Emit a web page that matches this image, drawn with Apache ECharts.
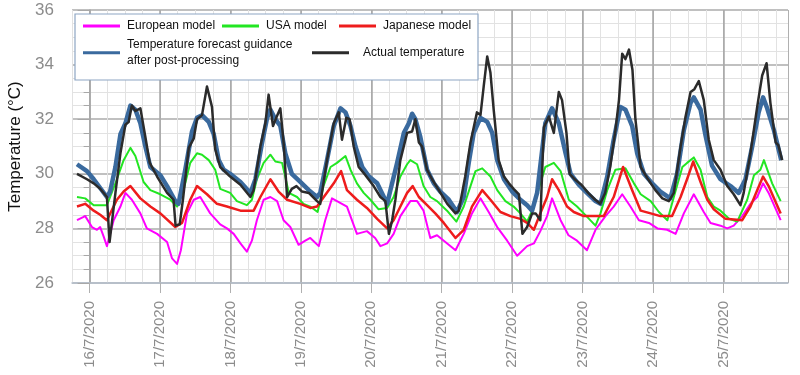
<!DOCTYPE html>
<html>
<head>
<meta charset="utf-8">
<title>Temperature forecast</title>
<script src="https://cdn.jsdelivr.net/npm/echarts@6/dist/echarts.min.js"></script>
<style>
  html, body { margin: 0; padding: 0; background: #fff; }
  #main { width: 800px; height: 375px; }
</style>
</head>
<body>
<div id="main"></div>
<script>
// hours counted from 16/7/2020 00:00, temperatures in °C
const dayHours = [0, 24, 48, 72, 96, 120, 144, 168, 192, 216];
const dayLabels = ["16/7/2020", "17/7/2020", "18/7/2020", "19/7/2020", "20/7/2020",
  "21/7/2020", "22/7/2020", "23/7/2020", "24/7/2020", "25/7/2020"];
const yTicks = [26, 28, 30, 32, 34, 36];

const euroModel = [[-4.3,28.3],[-1.5,28.45],[0.8,28.05],[2.5,27.95],[3.6,28.05],[4.8,27.7],[5.9,27.35],[8.2,28.3],[10.5,28.8],[12.2,29.3],[14.4,29.05],[17.3,28.55],[19.5,28.0],[23,27.8],[26.4,27.5],[28.1,26.9],[29.8,26.7],[31.1,27.2],[33.2,28.55],[35.5,29.05],[37.7,29.15],[41.1,28.55],[44.5,28.15],[46.8,28.0],[49.1,27.8],[51.4,27.45],[53.6,27.15],[55.3,27.55],[57,28.3],[59.3,29.05],[61.6,29.15],[63.9,29.0],[66.1,28.3],[68.4,28.05],[71.2,27.4],[73.5,27.55],[75.2,27.65],[78.1,27.35],[80.3,28.3],[82.6,29.1],[84.3,29.0],[86,28.9],[87.7,28.8],[91.1,27.8],[94.5,27.9],[97.3,27.65],[99.1,27.35],[101.4,27.45],[103.6,27.8],[105.9,28.45],[109.3,29.0],[111.6,29.0],[113.8,28.65],[116.1,27.65],[118.4,27.75],[120.7,27.55],[124.7,27.2],[127.5,27.8],[130.3,28.55],[133.2,29.1],[136,28.6],[138.9,28.05],[142.3,27.55],[145.7,27.0],[149.1,27.35],[151.4,27.45],[153.6,27.9],[155.9,28.45],[157.6,29.1],[160.5,28.3],[163.2,27.75],[166.1,27.55],[169.5,27.2],[172.4,27.95],[175.8,28.45],[178.6,28.8],[181.5,29.25],[184.3,28.8],[187.2,28.3],[190.6,28.2],[193.5,28.0],[196.8,27.95],[199.7,27.8],[202.5,28.55],[205.9,29.25],[209.3,28.6],[211.6,28.2],[215,28.1],[217.3,28.0],[219.5,28.1],[222.4,28.45],[225.2,28.9],[227.5,29.15],[229.5,29.65],[231.4,29.3],[235.5,28.3]];

const usaModel = [[-4.3,29.15],[-1.5,29.1],[1.4,28.85],[5.9,28.85],[7,29.15],[9.3,29.8],[11.6,30.5],[13.9,30.95],[15.6,30.65],[18.4,29.7],[20.7,29.4],[24.1,29.25],[27.5,29.05],[29.8,28.8],[32,29.4],[34.3,30.4],[36.6,30.75],[38.3,30.7],[40.6,30.5],[42.8,30.15],[44.5,29.45],[47.9,29.3],[50.2,29.0],[53.6,28.85],[55.3,29.05],[57,29.8],[59.3,30.4],[61.6,30.7],[63.3,30.45],[65.6,30.4],[67.9,29.3],[70.7,29.15],[72.9,28.9],[75.2,28.8],[77.7,28.6],[79.7,29.55],[82.1,30.25],[84.3,30.4],[87.2,30.65],[88.9,30.15],[91.1,29.65],[93.4,29.3],[95.7,29.05],[98.5,28.7],[101.4,28.75],[103.6,29.15],[105.9,29.9],[108.2,30.35],[109.3,30.5],[111.6,30.35],[113.8,29.55],[116.1,29.15],[118.4,29.0],[121.8,28.65],[125,28.25],[127.5,28.8],[129.8,29.55],[131.5,30.1],[133.8,30.2],[136.6,29.9],[138.9,29.4],[141.7,29.0],[144.5,28.8],[146.8,28.55],[149.1,28.25],[151.4,28.8],[153.6,29.65],[155.3,30.25],[158.2,30.4],[160.5,30.1],[163.3,29.05],[166.1,28.8],[168.4,28.55],[172.4,28.1],[174.1,28.55],[176.4,29.4],[179.2,30.15],[182.6,30.2],[185.5,29.65],[187.8,29.25],[191.2,29.0],[194,28.6],[196.9,28.3],[199.1,29.15],[202,30.25],[203.6,30.4],[205.9,30.6],[208.2,30.15],[210.5,29.15],[212.7,28.8],[215,28.65],[217.9,28.35],[220.7,28.25],[224.1,29.05],[226.4,29.95],[228.6,30.15],[229.8,30.5],[232.6,29.65],[235.5,29.0]];

const japanModel = [[-4.3,28.8],[-1.5,28.9],[1.4,28.65],[3.6,28.5],[5.9,28.3],[9.3,29.05],[11.6,29.35],[13.9,29.55],[17.3,29.1],[20.7,28.8],[24.1,28.55],[29.2,28.05],[31.5,28.2],[34.3,29.05],[36.6,29.55],[40,29.25],[43.4,28.9],[46.8,28.8],[51.4,28.65],[55.9,28.65],[58.2,29.15],[61.6,29.8],[64.4,29.35],[67.3,29.05],[71.8,28.9],[75.2,28.75],[77.5,28.8],[79.8,29.15],[83.2,29.65],[85.7,30.1],[87.7,29.4],[91.1,29.05],[94.5,28.75],[98,28.35],[101.4,28.0],[103.6,28.3],[105.9,28.8],[108.2,29.3],[110.1,29.55],[112.2,29.15],[115,28.85],[117.8,28.55],[120.7,28.2],[124.7,27.65],[127.5,27.95],[130.3,28.8],[133.8,29.4],[136.6,29.05],[140,28.6],[143.4,28.45],[146.8,28.35],[149.1,28.2],[151.4,27.95],[153.6,28.55],[155.9,29.15],[157.6,29.8],[159.9,29.4],[162.7,28.8],[165,28.6],[168.4,28.45],[175.2,28.45],[178.6,29.15],[181.8,30.25],[184.9,29.4],[187.8,28.65],[191.2,28.55],[194.5,28.45],[198.5,28.45],[201.4,29.15],[203.6,29.8],[205.7,30.45],[208.2,29.7],[210.5,29.05],[212.7,28.7],[216.7,28.35],[222.4,28.3],[225.2,28.8],[227.5,29.4],[229.5,29.9],[231.4,29.55],[235.5,28.55]];

const guidance = [[-4.3,30.35],[-0.9,30.1],[1.4,29.8],[5.9,29.15],[7,29.35],[8.8,30.25],[10.5,31.45],[12.2,31.85],[13.9,32.5],[15.6,32.35],[17.3,31.85],[19,31.0],[20.7,30.25],[24.1,29.95],[26.4,29.55],[29.2,29.0],[30.3,28.9],[32.6,30.15],[34.9,31.55],[36.6,32.05],[38.3,32.15],[40.6,31.9],[42.3,31.45],[44,30.5],[45.7,30.15],[47.9,30.0],[51.4,29.7],[54.8,29.3],[56.5,29.8],[58.8,31.15],[60.5,32.05],[61.6,32.35],[63.3,32.0],[65,31.75],[66.7,30.75],[68.9,30.0],[71.8,29.7],[74.7,29.4],[77.5,29.15],[78.6,29.3],[80.9,30.5],[83.2,31.75],[85.5,32.4],[87.2,32.25],[88.9,31.75],[90.6,31.0],[92.9,30.25],[95.2,29.9],[98,29.65],[101.4,28.9],[102.5,29.4],[104.8,30.4],[107.1,31.5],[108.8,31.85],[109.9,32.2],[111,32.0],[112.7,31.35],[115,30.15],[117.3,29.65],[119.5,29.35],[122.4,29.05],[125.2,28.6],[127.5,29.15],[129.2,30.4],[130.9,31.5],[133.2,32.05],[135.5,31.9],[137.2,31.5],[138.9,30.5],[141.2,29.8],[144,29.35],[146.8,29.05],[149.1,28.85],[150.8,28.65],[152.5,29.3],[155.3,31.85],[157.6,32.4],[159.9,31.85],[162.2,30.75],[163.9,30.0],[166.7,29.6],[169.5,29.3],[172.4,29.0],[174.1,28.9],[176.4,29.9],[178.6,31.25],[180.9,32.45],[182.6,32.35],[184.9,31.75],[186.6,30.75],[188.9,30.0],[191.7,29.65],[194.5,29.35],[197.9,29.1],[200.2,30.0],[202.5,31.6],[204.8,32.6],[205.9,32.8],[208.2,32.35],[209.9,31.4],[212.1,30.3],[215,29.8],[218.4,29.55],[221.2,29.3],[223.5,29.8],[225.8,31.0],[228,32.25],[229.5,32.8],[230.9,32.4],[233.2,31.6],[235.7,30.5]];

const actual = [[-4.3,30.0],[-0.9,29.8],[1.4,29.65],[3.6,29.45],[5.9,29.15],[6.8,27.5],[8.8,29.3],[10.5,30.75],[12.2,31.8],[13.3,31.9],[14.4,32.5],[15.6,32.3],[17.3,32.4],[19,31.35],[20.5,30.4],[23,29.9],[26.4,29.3],[28.6,29.05],[29.3,28.1],[30.7,28.15],[31.8,29.05],[33.8,30.95],[35.5,31.3],[36.6,32.0],[38.3,32.15],[40,33.2],[41.7,32.45],[42.8,30.9],[44.5,30.25],[47.9,29.9],[51.4,29.6],[54.8,29.15],[55.9,29.4],[58.2,31.0],[59.9,31.85],[61,32.9],[62.5,31.75],[63.6,32.05],[65,32.4],[66.1,31.15],[67.3,29.15],[68.9,29.45],[70.5,29.55],[72.4,29.35],[74.7,29.3],[77.5,29.0],[78.6,28.9],[80.9,30.5],[83.2,31.85],[84.9,32.25],[86,31.25],[87.5,32.05],[88.6,32.0],[90,31.0],[91.7,30.25],[94,29.95],[96.8,29.55],[99.1,29.15],[100.8,29.0],[102,27.8],[103.1,28.3],[104.2,29.05],[105.9,30.5],[108.2,31.5],[109.9,31.55],[111,32.0],[112.2,31.15],[113.3,31.0],[115,30.15],[116.7,29.8],[119,29.4],[121.9,28.9],[124.7,28.55],[125.8,28.65],[128,29.9],[129.8,31.15],[132,32.25],[133.2,32.15],[134.3,33.2],[135.5,34.3],[136.6,33.7],[137.7,32.35],[139.4,30.5],[141.2,29.9],[142.9,29.65],[144.5,29.45],[146.3,29.25],[147.5,27.8],[149.1,28.05],[150.8,28.55],[152,28.55],[153.6,28.3],[154.8,31.7],[156.5,32.1],[158.2,31.5],[159.9,33.0],[161,32.7],[162.5,31.5],[163.6,30.0],[165.3,29.8],[167.6,29.6],[169.9,29.3],[172.3,29.05],[174,28.9],[175.7,29.3],[177.4,30.25],[179.2,31.6],[180.4,32.7],[181.5,34.4],[182.6,34.2],[183.8,34.55],[185,33.8],[186,32.0],[187.8,30.25],[190,29.85],[192.8,29.4],[195.2,29.1],[197.4,29.0],[199.1,29.3],[201.4,31.0],[203.1,32.1],[204.8,33.0],[206.1,33.1],[207.6,33.4],[209.3,32.7],[211,31.25],[212.7,30.5],[215,30.15],[217.3,29.55],[219.5,29.25],[221.8,28.85],[222.9,29.3],[225.2,30.75],[227.5,32.45],[229.2,33.6],[230.7,34.05],[232,32.6],[233.8,31.15],[234.7,31.05],[236,30.5]];

const FONT = "Liberation Sans, Arial, sans-serif";
const GUIDE_NAME = "Temperature forecast guidance\nafter post-processing";

function legendItem(name, left, top, extra) {
  return Object.assign({
    data: [name],
    left: left,
    top: top,
    orient: "horizontal",
    padding: 0,
    icon: "rect",
    itemWidth: 37,
    itemHeight: 3,
    z: 12,
    selectedMode: false,
    textStyle: { fontFamily: FONT, fontSize: 12, color: "#111", lineHeight: 16, padding: [0, 0, 0, 2] }
  }, extra || {});
}

function line(name, data, color, width) {
  return {
    name: name,
    type: "line",
    data: data,
    showSymbol: false,
    symbol: "none",
    animation: false,
    lineStyle: { color: color, width: width, join: "round" },
    itemStyle: { color: color }
  };
}

var chart = echarts.init(document.getElementById("main"), null, { renderer: "canvas" });

chart.setOption({
  backgroundColor: "#fff",
  animation: false,
  textStyle: { fontFamily: FONT },
  grid: { left: 72, right: 12, top: 10, bottom: 92, containLabel: false, outerBoundsMode: "none" },
  graphic: [{
    type: "rect",
    z: 10,
    shape: { x: 75, y: 14, width: 403, height: 66 },
    style: { fill: "#fff", stroke: "#8ea6c4", lineWidth: 1.2 }
  }],
  legend: [
    legendItem("European model", 83, 18),
    legendItem("USA model", 222, 18),
    legendItem("Japanese model", 339, 18),
    legendItem(GUIDE_NAME, 83, 28.7, {
      textStyle: { fontFamily: FONT, fontSize: 12, color: "#111", lineHeight: 16, padding: [16, 0, 0, 2] }
    }),
    legendItem("Actual temperature", 312, 44.7, {
      textStyle: { fontFamily: FONT, fontSize: 12, color: "#111", lineHeight: 16, padding: [0, 0, 0, 9] }
    })
  ],
  xAxis: [{
    type: "value",
    min: -6,
    max: 238,
    interval: 6,
    axisLine: { show: true, lineStyle: { color: "#b4bfcc", width: 1.5 } },
    axisTick: { show: false },
    axisLabel: { show: false },
    splitLine: {
      show: true,
      lineStyle: { color: ["#e2e2e2", "#b0b0b0", "#e2e2e2", "#e2e2e2"], width: 1 }
    }
  }, {
    type: "value",
    min: -6,
    max: 238,
    position: "bottom",
    axisLine: { show: false },
    axisTick: { show: true, customValues: dayHours, length: 10, lineStyle: { color: "#b0b0b0" } },
    axisLabel: {
      show: true,
      customValues: dayHours,
      rotate: 90,
      margin: 18,
      fontSize: 15,
      color: "#8c8c8c",
      fontFamily: FONT,
      formatter: function (v) { return dayLabels[dayHours.indexOf(v)] || ""; }
    },
    splitLine: { show: true, lineStyle: { color: "#ababab", width: 1.6 } }
  }],
  yAxis: {
    type: "value",
    min: yTicks[0],
    max: yTicks[yTicks.length - 1],
    interval: 2,
    name: "Temperature (°C)",
    nameLocation: "middle",
    nameGap: 45,
    nameTextStyle: { fontFamily: FONT, fontSize: 17, color: "#111" },
    axisLine: { show: true, lineStyle: { color: "#a8a8a8", width: 1.5 } },
    axisTick: { show: true, length: 12, lineStyle: { color: "#a8a8a8" } },
    minorTick: { show: true, splitNumber: 4, length: 6, lineStyle: { color: "#a8a8a8" } },
    axisLabel: { fontSize: 17, color: "#8c8c8c", margin: 18, fontFamily: FONT },
    splitLine: { show: true, lineStyle: { color: "#ababab", width: 1.6 } },
    minorSplitLine: { show: true, lineStyle: { color: "#e2e2e2", width: 1 } }
  },
  series: [
    line("European model", euroModel, "#ff00ff", 2),
    line("USA model", usaModel, "#22e622", 2),
    line("Japanese model", japanModel, "#ee1c1c", 2.5),
    line(GUIDE_NAME, guidance, "#3a6a9e", 4.5),
    line("Actual temperature", actual, "#2b2b2b", 2.5)
  ]
});
</script>
</body>
</html>
